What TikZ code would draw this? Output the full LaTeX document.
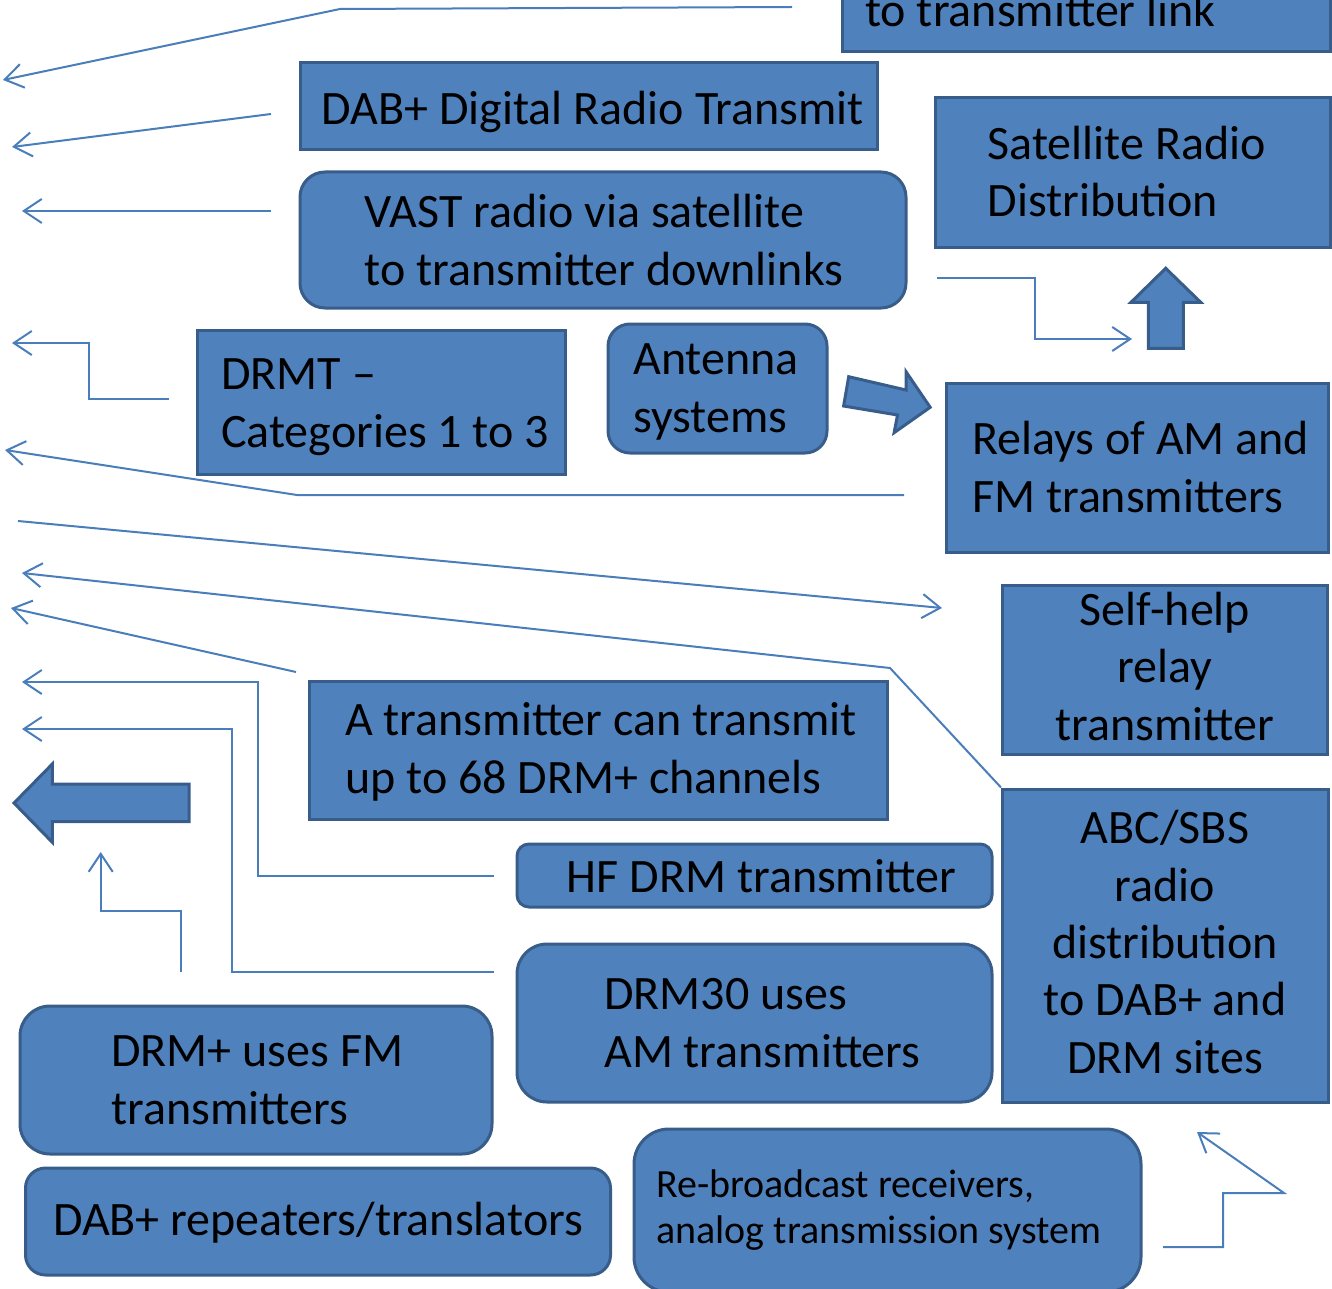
\documentclass[tikz,border=0pt]{standalone}
\usepackage{fontspec}
\setmainfont{Carlito}
\usetikzlibrary{arrows.meta}
\definecolor{boxfill}{HTML}{4F81BD}
\definecolor{boxline}{HTML}{385D8A}
\definecolor{connc}{HTML}{4A7EBB}
\begin{document}
\begin{tikzpicture}[x=1pt,y=-1pt,
 sqbox/.style={draw=boxline, fill=boxfill, line width=3pt, inner sep=0pt, rectangle},
 rbox/.style={sqbox, rounded corners=#1},
 txt/.style={inner sep=0pt, anchor=base west, align=left, font=\fontsize{48}{57.3}\selectfont, text=black},
 ctxt/.style={inner sep=0pt, anchor=base, align=center, font=\fontsize{48}{57.3}\selectfont, text=black},
 stxt/.style={txt, font=\fontsize{40}{46}\selectfont},
 conn/.style={draw=connc, line width=2pt, line join=miter, -{Straight Barb[length=18pt,width=24pt]}},
 blockarrow/.style={draw=boxline, fill=boxfill, line width=3pt, line join=miter}]
\useasboundingbox (0,0) rectangle (1332,1289);
\clip (0,0) rectangle (1332,1289);

% boxes
\node[sqbox, minimum width=488pt, minimum height=82pt] (link) at (1086,11) {};
\node[sqbox, minimum width=577pt, minimum height=87pt] (dab) at (589,106.5) {};
\node[rbox=25pt, minimum width=606pt, minimum height=136pt] (vast) at (603,240) {};
\node[sqbox, minimum width=395pt, minimum height=150pt] (sat) at (1132.5,173) {};
\node[sqbox, minimum width=368pt, minimum height=144pt] (drmt) at (381,402) {};
\node[rbox=22pt, minimum width=219pt, minimum height=129pt] (ant) at (717.5,388.5) {};
\node[sqbox, minimum width=382pt, minimum height=169pt] (relay) at (1137,467.5) {};
\node[sqbox, minimum width=325pt, minimum height=169pt] (self) at (1165,669.5) {};
\node[sqbox, minimum width=326pt, minimum height=313pt] (abc) at (1165.5,945.5) {};
\node[sqbox, minimum width=578pt, minimum height=138pt] (cap) at (598,750) {};
\node[rbox=12pt, minimum width=475pt, minimum height=63pt] (hf) at (754.5,875.5) {};
\node[rbox=30pt, minimum width=475pt, minimum height=158pt] (drm30) at (754.5,1023) {};
\node[rbox=30pt, minimum width=472pt, minimum height=148pt] (drmp) at (256,1080) {};
\node[rbox=20pt, minimum width=585pt, minimum height=107pt] (rep) at (318,1221.5) {};
\node[rbox=35pt, minimum width=507pt, minimum height=163pt] (rebc) at (887.5,1210.5) {};

% texts (anchored at the baseline of the last line)
\node[txt] (link-t) at (865,27) {to transmitter link};
\node[txt] (dab-t) at (321.6,125) {DAB+ Digital Radio Transmit};
\node[txt] (vast-t) at (364.5,285) {VAST radio via satellite\\to transmitter downlinks};
\node[txt] (sat-t) at (987.6,217) {Satellite Radio\\Distribution};
\node[txt] (drmt-t) at (221,447) {DRMT –\\Categories 1 to 3};
\node[txt] (ant-t) at (633,432) {Antenna\\systems};
\node[txt] (relay-t) at (972,512) {Relays of AM and\\FM transmitters};
\node[ctxt] (self-t) at (1165,740) {Self-help\\relay\\transmitter};
\node[ctxt] (abc-t) at (1165,1073) {ABC/SBS\\radio\\distribution\\to DAB+ and\\DRM sites};
\node[txt] (cap-t) at (345,793) {A transmitter can transmit\\up to 68 DRM+ channels};
\node[txt] (hf-t) at (566.7,892) {HF DRM transmitter};
\node[txt] (drm30-t) at (604,1067) {DRM30 uses\\AM transmitters};
\node[txt] (drmp-t) at (111,1124) {DRM+ uses FM\\transmitters};
\node[txt] (rep-t) at (53,1235) {DAB+ repeaters/translators};
\node[stxt] (rebc-t) at (656,1243) {Re-broadcast receivers,\\analog transmission system};

% block arrows
\draw[blockarrow] (848.7,376.7) -- (906,390) -- (906,371.7) -- (930.2,407.3) -- (894.1,432.7) -- (897.5,415) -- (843.6,406) -- cycle;
\draw[blockarrow] (1148.3,348.3) -- (1148.3,302.3) -- (1131,302.3) -- (1165.7,268.3) -- (1200.7,302.3) -- (1183.3,302.3) -- (1183.3,348.3) -- cycle;
\draw[blockarrow] (189,784) -- (52.3,784) -- (52.3,764) -- (14,803) -- (52.3,842.3) -- (52.3,821.7) -- (189,821.7) -- cycle;

% connector end points
\coordinate (c1s) at (792,7);   \coordinate (c1e) at (3,80);
\coordinate (c2s) at (271,114); \coordinate (c2e) at (12,147);
\coordinate (c3s) at (271,211); \coordinate (c3e) at (22,211);
\coordinate (c4s) at (169,399); \coordinate (c4e) at (12,343);
\coordinate (c5s) at (904,495); \coordinate (c5e) at (5,450);
\coordinate (c6s) at (18,521);  \coordinate (c6e) at (942,608);
\coordinate (c7e) at (22,573);
\coordinate (c8s) at (296,672); \coordinate (c8e) at (11,608);
\coordinate (c9s) at (494,876); \coordinate (c9e) at (22,682);
\coordinate (c10s) at (494,972); \coordinate (c10e) at (22,729);
\coordinate (c11s) at (180.5,972); \coordinate (c11e) at (100.7,852);
\coordinate (c12s) at (1163,1247); \coordinate (c12e) at (1197,1132);
\coordinate (c13s) at (937,278); \coordinate (c13e) at (1132,339);

% connectors
\draw[conn] (c1s) -- (340,9) -- (c1e);
\draw[conn] (c2s) -- (c2e);
\draw[conn] (c3s) -- (c3e);
\draw[conn] (c4s) -- (89,399) -- (89,343) -- (c4e);
\draw[conn] (c5s) -- (297,495) -- (c5e);
\draw[conn] (c6s) -- (c6e);
\draw[conn] (abc.north west) -- (890,668) -- (c7e);
\draw[conn] (c8s) -- (c8e);
\draw[conn] (c9s) -- (258,876) -- (258,682) -- (c9e);
\draw[conn] (c10s) -- (231.5,972) -- (231.5,729) -- (c10e);
\draw[conn] (c11s) -- (180.5,911) -- (100.7,911) -- (c11e);
\draw[conn] (c12s) -- (1223,1247) -- (1223,1193) -- (1284,1193) -- (c12e);
\draw[conn] (c13s) -- (1035,278) -- (1035,339) -- (c13e);
\end{tikzpicture}
\end{document}
